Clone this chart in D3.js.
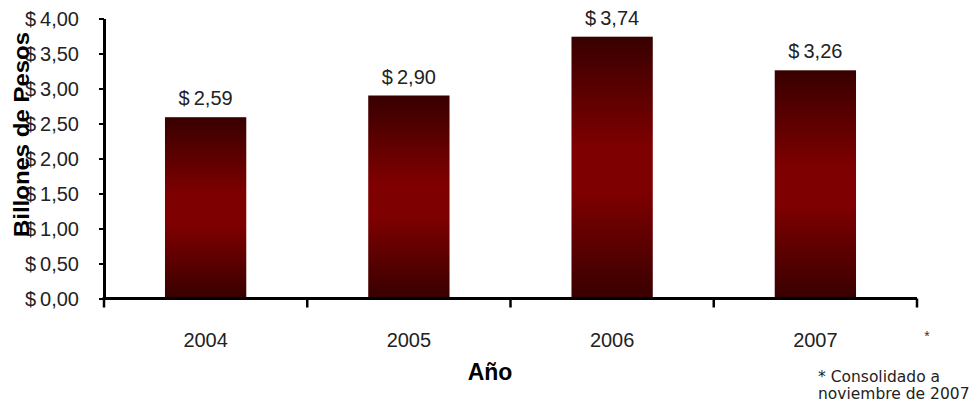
<!DOCTYPE html>
<html><head><meta charset="utf-8">
<script src="https://cdn.jsdelivr.net/npm/d3@7"></script>
<style>
html,body{margin:0;padding:0;background:#fff;}
</style></head>
<body>
<svg id="c" width="973" height="403" style="font-family:'Liberation Sans',Arial,sans-serif"></svg>
<script>
const years = ["2004","2005","2006","2007"];
const values = [2.59, 2.90, 3.74, 3.26];
const yTicks = [0,0.5,1,1.5,2,2.5,3,3.5,4];
const yTitle = "Billones de Pesos";
const xTitle = "Año";
const footnote = ["* Consolidado a","noviembre de 2007"];

const svg = d3.select("#c");
const x = d3.scaleBand().domain(years).range([104,917]).paddingInner(0.6).paddingOuter(0.3);
const y = d3.scaleLinear().domain([0,4]).range([298.5,18.5]);
const fmt = d => "$\u2009" + d.toFixed(2).replace(".", ",");

const defs = svg.append("defs");
const g = defs.append("linearGradient").attr("id","barg").attr("x1",0).attr("y1",0).attr("x2",0).attr("y2",1);
[[0,"#380000"],[0.42,"#7e0000"],[0.6,"#7e0000"],[1,"#380000"]].forEach(s=>g.append("stop").attr("offset",s[0]).attr("stop-color",s[1]));

// bars
svg.append("g").selectAll("rect").data(values).join("rect")
  .attr("x",(d,i)=>x(years[i])).attr("width",x.bandwidth())
  .attr("y",d=>y(d)).attr("height",d=>y(0)-y(d))
  .attr("fill","url(#barg)");

// value labels
svg.append("g").selectAll("text").data(values).join("text")
  .attr("x",(d,i)=>x(years[i])+x.bandwidth()/2).attr("y",d=>y(d)-12)
  .attr("text-anchor","middle").attr("font-size",20).attr("fill","#222")
  .text(d=>fmt(d));

// y axis
const ya = svg.append("g").attr("transform","translate(104,0)")
  .call(d3.axisLeft(y).tickValues(yTicks).tickFormat(fmt).tickSize(5).tickSizeOuter(0).tickPadding(20));
ya.attr("font-family",null).attr("font-size",null);
ya.select(".domain").attr("stroke","#000").attr("stroke-width",3);
ya.selectAll(".tick line").attr("stroke","#000").attr("stroke-width",2);
ya.selectAll(".tick text").attr("font-size",20).attr("fill","#222").attr("dy","0.36em");

// x axis line
const step = x.step();
const bounds = years.map(d=>x(d)-step*x.paddingInner()/2).concat([x(years[years.length-1])+x.bandwidth()+step*x.paddingInner()/2]);
svg.append("line").attr("x1",102.5).attr("x2",d3.max(bounds)).attr("y1",y(0)).attr("y2",y(0)).attr("stroke","#000").attr("stroke-width",3);
svg.append("g").selectAll("line").data(bounds).join("line")
  .attr("x1",d=>d).attr("x2",d=>d).attr("y1",y(0)).attr("y2",y(0)+9)
  .attr("stroke","#000").attr("stroke-width",2.5);

// x labels
svg.append("g").selectAll("text").data(years).join("text")
  .attr("x",d=>x(d)+x.bandwidth()/2).attr("y",347)
  .attr("text-anchor","middle").attr("font-size",20).attr("fill","#222").text(d=>d);

// star after axis
svg.append("text").attr("x",927).attr("y",341).attr("text-anchor","middle").attr("font-size",14).attr("fill","#333").text("*");

// titles
svg.append("text").attr("x",490).attr("y",380).attr("text-anchor","middle")
  .attr("font-size",23).attr("font-weight","bold").text(xTitle);
svg.append("text").attr("transform","translate(29,134.5) rotate(-90)").attr("text-anchor","middle")
  .attr("font-size",22).attr("font-weight","bold").attr("textLength",205).attr("lengthAdjust","spacingAndGlyphs").text(yTitle);

// footnote
svg.append("g").selectAll("text").data(footnote).join("text")
  .attr("x",818).attr("y",(d,i)=>382+i*17)
  .attr("font-size",15.5).style("font-family","'DejaVu Sans', Verdana, sans-serif").attr("fill","#222").text(d=>d);
</script>
</body></html>
